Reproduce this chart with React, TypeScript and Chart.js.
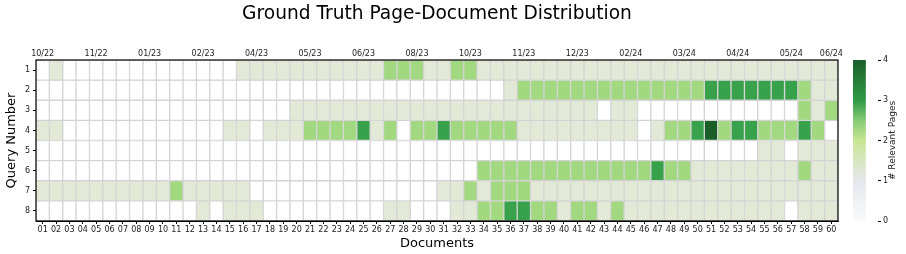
import React, { useEffect, useRef } from "react";
import { Chart, registerables } from "chart.js";

Chart.register(...registerables);

// ---- data ----
const TITLE = "Ground Truth Page-Document Distribution";
const DOCUMENTS: string[] = Array.from({ length: 60 }, (_, i) => String(i + 1).padStart(2, "0"));
const QUERY_IDS: number[] = [1, 2, 3, 4, 5, 6, 7, 8];

const MONTH_TICK_DOCS: number[] = [1, 5, 9, 13, 17, 21, 25, 29, 33, 37, 41, 45, 49, 53, 57, 60];
const MONTH_TICK_LABELS: string[] = [
  "10/22", "11/22", "01/23", "02/23", "04/23", "05/23", "06/23", "08/23",
  "10/23", "11/23", "12/23", "02/24", "03/24", "04/24", "05/24", "06/24",
];

const Q1: number[] = [0,1,0,0,0,0,0,0,0,0, 0,0,0,0,0,1,1,1,1,1, 1,1,1,1,1,1,2,2,2,1, 1,2,2,1,1,1,1,1,1,1, 1,1,1,1,1,1,1,1,1,1, 1,1,1,1,1,1,1,1,1,1];
const Q2: number[] = [0,0,0,0,0,0,0,0,0,0, 0,0,0,0,0,0,0,0,0,0, 0,0,0,0,0,0,0,0,0,0, 0,0,0,0,0,1,2,2,2,2, 2,2,2,2,2,2,2,2,2,2, 3,3,3,3,3,3,3,2,1,1];
const Q3: number[] = [0,0,0,0,0,0,0,0,0,0, 0,0,0,0,0,0,0,0,0,1, 1,1,1,1,1,1,1,1,1,1, 1,1,1,1,1,1,1,1,1,1, 1,1,0,1,1,0,0,0,0,0, 0,0,0,0,0,0,0,2,1,2];
const Q4: number[] = [1,1,0,0,0,0,0,0,0,0, 0,0,0,0,1,1,0,1,1,1, 2,2,2,2,3,1,2,0,2,2, 3,2,2,2,2,2,1,1,1,1, 1,1,1,1,1,0,1,2,2,3, 4,2,3,3,2,2,2,3,2,0];
const Q5: number[] = [0,0,0,0,0,0,0,0,0,0, 0,0,0,0,0,0,0,0,0,0, 0,0,0,0,0,0,0,0,0,0, 0,0,0,0,0,0,0,0,0,0, 0,0,0,0,0,0,0,0,0,0, 0,0,0,0,1,1,0,1,1,1];
const Q6: number[] = [0,0,0,0,0,0,0,0,0,0, 0,0,0,0,0,0,0,0,0,0, 0,0,0,0,0,0,0,0,0,0, 0,0,0,2,2,2,2,2,2,2, 2,2,2,2,2,2,3,2,2,1, 1,1,1,1,1,1,1,2,1,1];
const Q7: number[] = [1,1,1,1,1,1,1,1,1,1, 2,1,1,1,1,1,0,0,0,0, 0,0,0,0,0,0,0,0,0,0, 1,1,2,1,2,2,2,1,1,1, 1,1,1,1,1,1,1,1,1,1, 1,1,1,1,1,1,1,1,1,1];
const Q8: number[] = [0,0,0,0,0,0,0,0,0,0, 0,0,1,0,1,1,1,0,0,0, 0,0,0,0,0,0,1,1,0,0, 0,1,1,2,2,3,3,2,2,1, 2,2,1,2,1,1,1,1,1,1, 1,1,1,1,1,1,0,1,1,1];
const QUERY_VALUES: number[][] = [Q1, Q2, Q3, Q4, Q5, Q6, Q7, Q8];

const COLORBAR_TICKS: number[] = [0, 1, 2, 3, 4];

// ---- styles ----
const CELL_COLORS = ["#ffffff", "#e2ead7", "#a1d880", "#37a24b", "#1b5f28"];
const FONT = "DejaVu Sans";

const framePlugin = {
  id: "frame",
  afterDatasetsDraw(chart: any) {
    const { ctx, chartArea } = chart;
    ctx.save();
    ctx.strokeStyle = "#000";
    ctx.lineWidth = 1.2;
    ctx.strokeRect(chartArea.left, chartArea.top, chartArea.right - chartArea.left, chartArea.bottom - chartArea.top);
    ctx.restore();
  },
};

const titlePlugin = {
  id: "figTitle",
  afterDraw(chart: any) {
    const { ctx } = chart;
    ctx.save();
    ctx.font = `18.6px "${FONT}"`;
    ctx.fillStyle = "#000";
    ctx.textAlign = "center";
    ctx.textBaseline = "middle";
    ctx.fillText(TITLE, 437, 14.5);
    ctx.restore();
  },
};

const cbarLabelPlugin = {
  id: "cbarLabel",
  afterDraw(chart: any) {
    const { ctx, chartArea } = chart;
    ctx.save();
    ctx.translate(40, (chartArea.top + chartArea.bottom) / 2);
    ctx.rotate(-Math.PI / 2);
    ctx.font = `9px "${FONT}"`;
    ctx.fillStyle = "#222";
    ctx.textAlign = "center";
    ctx.textBaseline = "middle";
    ctx.fillText("# Relevant Pages", 0, 0);
    ctx.restore();
  },
};

export default function App() {
  const mainRef = useRef<HTMLCanvasElement>(null);
  const cbarRef = useRef<HTMLCanvasElement>(null);

  useEffect(() => {
    const datasets = QUERY_VALUES.map((vals, qi) => ({
      label: `Query ${QUERY_IDS[qi]}`,
      data: vals.map(() => [QUERY_IDS[qi] - 0.5, QUERY_IDS[qi] + 0.5]),
      backgroundColor: vals.map((v) => CELL_COLORS[v]),
      borderColor: "#d4d4d4",
      borderWidth: 1,
      borderSkipped: false,
      grouped: false,
      barPercentage: 1,
      categoryPercentage: 1,
      xAxisID: "x",
      yAxisID: "y",
    }));

    const main = new Chart(mainRef.current!, {
      type: "bar",
      data: { labels: DOCUMENTS, datasets: datasets as any },
      plugins: [framePlugin, titlePlugin],
      options: {
        animation: false,
        responsive: false,
        maintainAspectRatio: false,
        layout: { padding: { left: 0, right: 12, top: 46, bottom: 0 } },
        plugins: {
          legend: { display: false },
          tooltip: { enabled: false },
          title: { display: false },
        },
        scales: {
          x: {
            type: "category",
            position: "bottom",
            offset: true,
            grid: { display: true, drawOnChartArea: false, drawTicks: true, tickLength: 3, offset: false, color: "#000" },
            border: { display: true, color: "#000" },
            ticks: {
              autoSkip: false,
              maxRotation: 0,
              minRotation: 0,
              padding: 1,
              color: "#222",
              font: { family: FONT, size: 8 },
            },
            title: {
              display: true,
              text: "Documents",
              color: "#000",
              font: { family: FONT, size: 13 },
              padding: { top: 0, bottom: 3 },
            },
            afterFit: (s: any) => { s.height = 33; },
          },
          x2: {
            type: "category",
            position: "top",
            offset: true,
            grid: { display: false, drawTicks: false },
            border: { display: false },
            ticks: {
              autoSkip: false,
              maxRotation: 0,
              minRotation: 0,
              padding: 1,
              color: "#222",
              font: { family: FONT, size: 8 },
              callback: (_v: any, i: number) => {
                const k = MONTH_TICK_DOCS.indexOf(i + 1);
                return k >= 0 ? MONTH_TICK_LABELS[k] : "";
              },
            },
            afterFit: (s: any) => { s.height = 14; },
          },
          y: {
            type: "linear",
            min: 0.5,
            max: 8.5,
            reverse: true,
            grid: { display: true, drawOnChartArea: false, drawTicks: true, tickLength: 3, color: "#000" },
            border: { display: true, color: "#000" },
            afterBuildTicks: (s: any) => { s.ticks = QUERY_IDS.map((v) => ({ value: v })); },
            ticks: {
              padding: 3,
              color: "#222",
              font: { family: FONT, size: 8 },
              callback: (v: any) => String(v),
            },
            title: {
              display: true,
              text: "Query Number",
              color: "#000",
              font: { family: FONT, size: 13 },
              padding: { top: 4, bottom: 0 },
            },
            afterFit: (s: any) => { s.width = 36; },
          },
        },
      } as any,
    });

    const cbar = new Chart(cbarRef.current!, {
      type: "bar",
      data: {
        labels: [""],
        datasets: [
          {
            data: [[COLORBAR_TICKS[0], COLORBAR_TICKS[COLORBAR_TICKS.length - 1]]],
            backgroundColor: (ctx: any) => {
              const area = ctx.chart.chartArea;
              if (!area) return "#ffffff";
              const g = ctx.chart.ctx.createLinearGradient(0, area.bottom, 0, area.top);
              g.addColorStop(0, "#fafafc");
              g.addColorStop(0.25, "#e6e7ec");
              g.addColorStop(0.5, "#c8e593");
              g.addColorStop(0.625, "#86cb75");
              g.addColorStop(0.75, "#2e9a45");
              g.addColorStop(1, "#1c5e2c");
              return g;
            },
            borderWidth: 0,
            barPercentage: 1,
            categoryPercentage: 1,
          } as any,
        ],
      },
      plugins: [cbarLabelPlugin],
      options: {
        animation: false,
        responsive: false,
        maintainAspectRatio: false,
        layout: { padding: { left: 0, right: 0, top: 60, bottom: 33 } },
        plugins: { legend: { display: false }, tooltip: { enabled: false }, title: { display: false } },
        scales: {
          x: { display: false, offset: false },
          y: {
            type: "linear",
            position: "right",
            min: 0,
            max: 4,
            grid: { display: true, drawOnChartArea: false, drawTicks: true, tickLength: 3, color: "#000" },
            border: { display: false },
            afterBuildTicks: (s: any) => { s.ticks = COLORBAR_TICKS.map((v) => ({ value: v })); },
            ticks: { padding: 2, color: "#222", font: { family: FONT, size: 8 } },
            afterFit: (s: any) => { s.width = 28; },
          },
        },
      } as any,
    });

    return () => {
      main.destroy();
      cbar.destroy();
    };
  }, []);

  return (
    <div style={{ position: "absolute", left: 0, top: 0, width: 906, height: 254, background: "#fff" }}>
      <canvas ref={mainRef} width={850} height={254} style={{ position: "absolute", left: 0, top: 0 }} />
      <canvas ref={cbarRef} width={53} height={254} style={{ position: "absolute", left: 853, top: 0 }} />
    </div>
  );
}
